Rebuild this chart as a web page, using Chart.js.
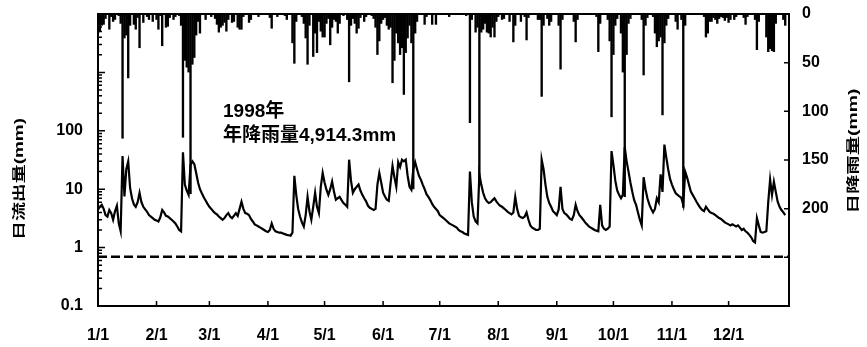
<!DOCTYPE html>
<html>
<head>
<meta charset="utf-8">
<script src="https://cdn.jsdelivr.net/npm/chart.js@4/dist/chart.umd.min.js"></script>
<style>
html,body{margin:0;padding:0;background:#fff;}
#wrap{width:867px;height:347px;}
</style>
</head>
<body>
<div id="wrap"><canvas id="c" width="867" height="347"></canvas></div>
<script>
// ---- data (1998 daily values) ----
const monthLabels = ['1/1','2/1','3/1','4/1','5/1','6/1','7/1','8/1','9/1','10/1','11/1','12/1'];
const monthStartDays = [0,31,59,90,120,151,181,212,243,273,304,334];

// daily rainfall (mm), Jan..Dec
const rainJan = [20,18,12,11,5,0,16,3,8,6,0,2,10,128,25,22,66,12,0,11,16,4,35,0,9,0,3,6,0,8,0];
const rainFeb = [6,16,2,33,0,14,13,4,0,6,3,0,2,12,127,48,55,60,185,52,45,22,8,20,0,0,6,0];
const rainMar = [0,3,0,5,11,19,14,12,9,18,6,0,9,8,0,14,16,16,3,0,0,9,6,0,0,0,3,0,0,0,0];
const rainApr = [0,4,15,0,0,3,0,0,0,2,6,0,0,30,51,8,0,0,3,10,25,52,12,0,44,20,40,8,18,24];
const rainMay = [24,10,5,32,14,6,8,20,10,0,2,0,6,70,12,5,10,20,15,4,0,8,3,0,0,2,5,14,42,28,10];
const rainJun = [6,4,12,16,14,71,48,20,30,42,35,83,40,25,12,30,180,20,8,0,0,0,11,3,0,0,11,0,11,0];
const rainJul = [0,0,0,0,0,3,0,0,0,0,0,0,0,0,2,0,112,6,0,19,14,176,19,16,10,19,20,24,14,24,8];
const rainAug = [3,0,6,5,0,0,8,0,29,12,0,0,8,0,3,27,4,0,0,0,0,6,6,85,12,0,5,12,8,0,0];
const rainSep = [0,12,57,6,0,0,0,0,0,8,29,6,0,0,0,0,0,0,0,0,0,3,39,10,0,0,0,6,28,106];
const rainOct = [42,12,5,0,20,60,188,42,10,5,0,0,0,0,0,6,63,12,4,0,0,3,20,34,28,24,104,30,12,5,0];
const rainNov = [0,0,8,16,0,6,199,12,0,0,0,0,0,0,0,0,0,3,24,20,8,8,4,6,10,5,3,4,7,4];
const rainDec = [9,6,0,6,3,0,0,0,4,11,3,0,0,0,6,37,8,0,0,0,24,39,36,38,39,10,0,0,0,6,12];

// daily runoff (mm), Jan..Dec
const flowJan = [4.5,5.0,5.4,4.6,3.6,3.4,4.4,3.9,3.0,4.2,5.2,2.6,1.9,37,7.5,22,30,10.5,7,5.5,5.0,6.0,8.7,6.0,5.0,4.5,4.1,3.6,3.4,3.2,3.0];
const flowFeb = [2.9,2.8,3.3,4.4,4.0,3.5,3.4,3.2,3.0,2.8,2.6,2.3,2.0,1.9,43,12,9.5,8,26,30,27,19,13,10,8.5,7.3,6.4,5.6];
const flowMar = [5.0,4.6,4.2,3.9,3.7,3.4,3.2,3.0,3.2,3.6,3.9,3.4,3.2,3.5,3.9,3.5,4.6,6.1,4.6,3.9,3.8,3.6,3.1,2.8,2.5,2.4,2.3,2.2,2.1,2.0,1.9];
const flowApr = [1.85,2.0,2.6,2.1,1.9,1.85,1.8,1.8,1.75,1.7,1.65,1.63,1.6,1.8,17,8,4.6,3.4,2.7,2.3,3.6,7.4,4.2,3.0,5.0,8.7,5.0,3.9,11,19];
const flowMay = [13,9.8,8.0,10,13.5,9,6.6,7.0,7.4,6.5,5.8,5.4,5.0,32,14,8.7,10,11,12,9.5,8.0,7.0,6.2,5.2,4.8,4.6,4.4,4.6,12,19,13];
const flowJun = [8.7,7.5,6.6,6.3,13,25,16,11,29,24,32,30,32,17,11,9.8,22,29,22,17,14.6,12,10,8.2,7.4,6.5,5.6,5.0,4.6,4.2];
const flowJul = [3.6,3.4,3.2,3.0,2.8,2.6,2.5,2.4,2.3,2.2,2.0,1.9,1.85,1.75,1.7,1.65,20,6,3.4,2.8,2.6,18,12,8.7,7.0,6.2,5.8,6.0,6.5,7.0,6.2];
const flowAug = [5.6,5.2,5.0,4.7,4.4,4.1,3.9,3.7,4.0,7.4,4.6,3.5,3.3,3.2,3.4,4.0,3.0,2.4,2.2,2.1,2.0,2.0,2.1,32,22,12,7.4,5.8,5.0,4.2,3.9];
const flowSep = [3.6,4.5,11,4.6,3.9,3.7,3.4,3.1,3.0,3.6,5.4,4.2,3.6,3.3,3.0,2.7,2.5,2.3,2.2,2.1,2.0,1.95,1.9,5.4,2.4,2.1,2.0,2.1,2.3,45];
const flowOct = [26,14,9.5,8,7,8,52,30,20,13,9,6.5,5.4,4.0,3.0,2.4,16,10,7.0,5.5,4.6,4.0,4.6,7.0,6,18,9,58,35,22,15];
const flowNov = [12,10,8.5,8,7.5,7.1,5.4,20,16,12,9.1,8,7,6.1,5.4,4.8,4.4,4.2,5.0,4.5,4.1,3.9,3.8,3.6,3.4,3.2,3.1,2.9,2.7,2.6];
const flowDec = [2.5,2.4,2.5,2.4,2.3,2.4,2.2,2.0,2.1,1.9,1.8,1.65,1.5,1.3,1.23,3.2,2.4,1.85,1.8,1.85,1.9,6,14.6,8,13.4,9,6.1,5.0,4.4,4.0,3.6];

const baseflowLevel = 0.7;            // dashed reference line (mm)
const leftTickLabels = [0.1, 1, 10, 100];
const rightTickLabels = [0, 50, 100, 150, 200];
const rightTickMarks = [0, 50, 100, 150, 200, 250, 300];
const yearLabel = '1998年';
const rainTotalLabel = '年降雨量4,914.3mm';
const leftTitle = '日流出量(mm)';
const rightTitle = '日降雨量(mm)';

const dailyRain = [].concat(rainJan,rainFeb,rainMar,rainApr,rainMay,rainJun,rainJul,rainAug,rainSep,rainOct,rainNov,rainDec);
const dailyFlow = [].concat(flowJan,flowFeb,flowMar,flowApr,flowMay,flowJun,flowJul,flowAug,flowSep,flowOct,flowNov,flowDec);

// log-axis tick positions (decades and their multiples)
const logTicks = [];
for (let e = -1; e <= 3; e++) for (let m = 1; m <= 9; m++) logTicks.push(m * Math.pow(10, e));
logTicks.push(10000);

const FONT = "'Liberation Sans', 'Noto Sans CJK JP', Arial, sans-serif";
Chart.defaults.font.family = FONT;
Chart.defaults.font.size = 16;
Chart.defaults.font.weight = 'bold';
Chart.defaults.color = '#000';

function isDecade(v) {
  const l = Math.log10(v);
  return Math.abs(l - Math.round(l)) < 1e-9;
}

function drawVertical(ctx, text, cx, cy, len, size) {
  ctx.save();
  ctx.font = 'bold ' + size + 'px ' + FONT;
  const w = ctx.measureText(text).width;
  ctx.translate(cx, cy);
  ctx.rotate(-Math.PI / 2);
  ctx.scale(len / w, 1);
  ctx.textAlign = 'center';
  ctx.textBaseline = 'middle';
  ctx.fillStyle = '#000';
  ctx.fillText(text, 0, 0);
  ctx.restore();
}

function fitVertical(width) {
  return s => { s.width = width; s.paddingTop = 0; s.paddingBottom = 0; };
}

const framePlugin = {
  id: 'frame',
  afterDatasetsDraw(chart) {
    const {ctx, chartArea: a, scales} = chart;
    ctx.save();
    ctx.strokeStyle = '#000';
    ctx.lineWidth = 2;
    ctx.strokeRect(a.left, a.top, a.right - a.left, a.bottom - a.top);
    ctx.lineWidth = 1.5;
    ctx.beginPath();
    scales.yL.ticks.forEach(t => {
      const y = scales.yL.getPixelForValue(t.value);
      ctx.moveTo(a.left, y);
      ctx.lineTo(a.left + (isDecade(t.value) ? 7 : 4), y);
    });
    scales.yR.ticks.forEach(t => {
      const y = scales.yR.getPixelForValue(t.value);
      ctx.moveTo(a.right, y);
      ctx.lineTo(a.right - 5, y);
    });
    scales.x.ticks.forEach(t => {
      const x = scales.x.getPixelForValue(t.value);
      ctx.moveTo(x, a.bottom);
      ctx.lineTo(x, a.bottom - 5);
    });
    ctx.stroke();
    ctx.restore();
  },
  afterDraw(chart) {
    const ctx = chart.ctx;
    drawVertical(ctx, leftTitle, 19, 179, 122, 13);
    drawVertical(ctx, rightTitle, 853, 151, 125, 13);
    ctx.save();
    ctx.fillStyle = '#000';
    ctx.font = 'bold 19px ' + FONT;
    ctx.textAlign = 'left';
    ctx.textBaseline = 'alphabetic';
    ctx.fillText(yearLabel, 223, 117);
    ctx.fillText(rainTotalLabel, 223, 141);
    ctx.restore();
  }
};

new Chart(document.getElementById('c'), {
  type: 'bar',
  data: {
    datasets: [
      {
        type: 'line', label: '日流出量',
        data: dailyFlow.map((v, i) => ({x: i, y: v})),
        xAxisID: 'x', yAxisID: 'yL',
        borderColor: '#000', borderWidth: 2.2, pointRadius: 0, tension: 0, order: 1
      },
      {
        type: 'line', label: 'base',
        data: [{x: 0, y: baseflowLevel}, {x: 366, y: baseflowLevel}],
        xAxisID: 'x', yAxisID: 'yL',
        borderColor: '#000', borderWidth: 2.5, borderDash: [9, 4], pointRadius: 0, order: 2
      },
      {
        type: 'bar', label: '日降雨量',
        data: dailyRain.map((v, i) => ({x: i, y: v})),
        xAxisID: 'x', yAxisID: 'yR',
        backgroundColor: '#000', borderWidth: 0,
        barPercentage: 1.25, categoryPercentage: 1, order: 3
      }
    ]
  },
  options: {
    responsive: false,
    animation: false,
    devicePixelRatio: 1,
    layout: {padding: {top: 14, left: 0, right: 0, bottom: 0}},
    plugins: {legend: {display: false}, tooltip: {enabled: false}},
    scales: {
      x: {
        type: 'linear', min: 0, max: 366, offset: false,
        grid: {display: false, drawTicks: false, offset: false},
        border: {display: false},
        afterBuildTicks: s => { s.ticks = monthStartDays.map(v => ({value: v})); },
        ticks: {autoSkip: false, maxRotation: 0, padding: 20, callback: (v, i) => monthLabels[i]},
        afterFit: s => { s.height = 41; s.paddingLeft = 0; s.paddingRight = 0; }
      },
      yL: {
        type: 'logarithmic', position: 'left', min: 0.1, max: 10000,
        grid: {display: false, drawTicks: false},
        border: {display: false},
        afterBuildTicks: s => { s.ticks = logTicks.map(v => ({value: v})); },
        ticks: {autoSkip: false, padding: 15,
          callback: v => (leftTickLabels.indexOf(v) >= 0 ? String(v) : '')},
        afterFit: fitVertical(98)
      },
      yR: {
        type: 'linear', position: 'right', min: 0, max: 300, reverse: true,
        grid: {display: false, drawTicks: false},
        border: {display: false},
        afterBuildTicks: s => { s.ticks = rightTickMarks.map(v => ({value: v})); },
        ticks: {autoSkip: false, padding: 13,
          callback: v => (rightTickLabels.indexOf(v) >= 0 ? String(v) : '')},
        afterFit: fitVertical(78)
      }
    }
  },
  plugins: [framePlugin]
});
</script>
</body>
</html>
